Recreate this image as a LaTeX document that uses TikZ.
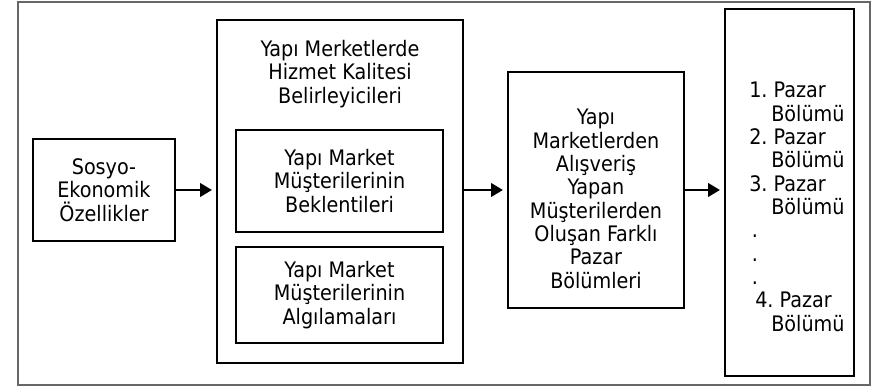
\documentclass[tikz,border=0pt]{standalone}
\usepackage{fontspec}
\setmainfont{DejaVu Sans Condensed}
\usepackage{tikz}
\usetikzlibrary{arrows.meta,positioning}
\tikzset{
    block/.style={
    rectangle,draw=black,line width=1.5pt,inner sep=0pt,align=center,
    font=\fontsize{16}{17.5}\selectfont
    },
    label/.style={
    inner sep=0pt,align=center,font=\fontsize{16}{17.5}\selectfont
    },
    flow/.style={
    line width=2.2pt,-{Triangle[length=9pt,width=10pt]},shorten >=3pt
    },
}
\begin{document}
\begin{tikzpicture}[x=0.75pt,y=-0.75pt]
  \useasboundingbox (0,0) rectangle (875,388);
  \draw[gray!80!black,line width=0.8pt] (18,2) rectangle (870,385);

  \node[block,minimum width=106.5pt,minimum height=76.5pt] (SOSYO) at (104,190)
    {Sosyo-\\Ekonomik\\Özellikler};
  \node[block,minimum width=184.5pt,minimum height=257.25pt] (KALITE) at (340,191.5) {};
  \node[label] (KALTITLE) at (340,74)
    {Yapı Merketlerde\\Hizmet Kalitesi\\Belirleyicileri};
  \node[block,minimum width=155.25pt,minimum height=76.5pt] (BEKLENTI) at (339.5,181)
    {Yapı Market\\Müşterilerinin\\Beklentileri};
  \node[block,minimum width=155.25pt,minimum height=72pt] (ALGI) at (339.5,295)
    {Yapı Market\\Müşterilerinin\\Algılamaları};
  \node[block,minimum width=132pt,minimum height=177pt] (BOLUM) at (596,190) {};
  \node[label] (BOLUMTXT) at (596,199)
    {Yapı\\Marketlerden\\Alışveriş\\Yapan\\Müşterilerden\\Oluşan Farklı\\Pazar\\Bölümleri};
  \node[block,minimum width=96.75pt,minimum height=275.25pt] (PAZAR) at (789.5,192.5) {};
  \node[label,align=left,anchor=north west] (PAZARTXT) at (749,82)
    {1.~Pazar\\ \hspace{16.5pt}Bölümü\\
     2.~Pazar\\ \hspace{16.5pt}Bölümü\\
     3.~Pazar\\ \hspace{16.5pt}Bölümü\\
     \hspace{2pt}.\\ \hspace{2pt}.\\ \hspace{2pt}.\\
     \hspace{4.5pt}4.~Pazar\\ \hspace{16.5pt}Bölümü};

  \draw[flow] (SOSYO.east) -- (SOSYO.east -| KALITE.west);
  \draw[flow] (KALITE.east |- SOSYO.east) -- (SOSYO.east -| BOLUM.west);
  \draw[flow] (BOLUM.east |- SOSYO.east) -- (SOSYO.east -| PAZAR.west);
\end{tikzpicture}
\end{document}
